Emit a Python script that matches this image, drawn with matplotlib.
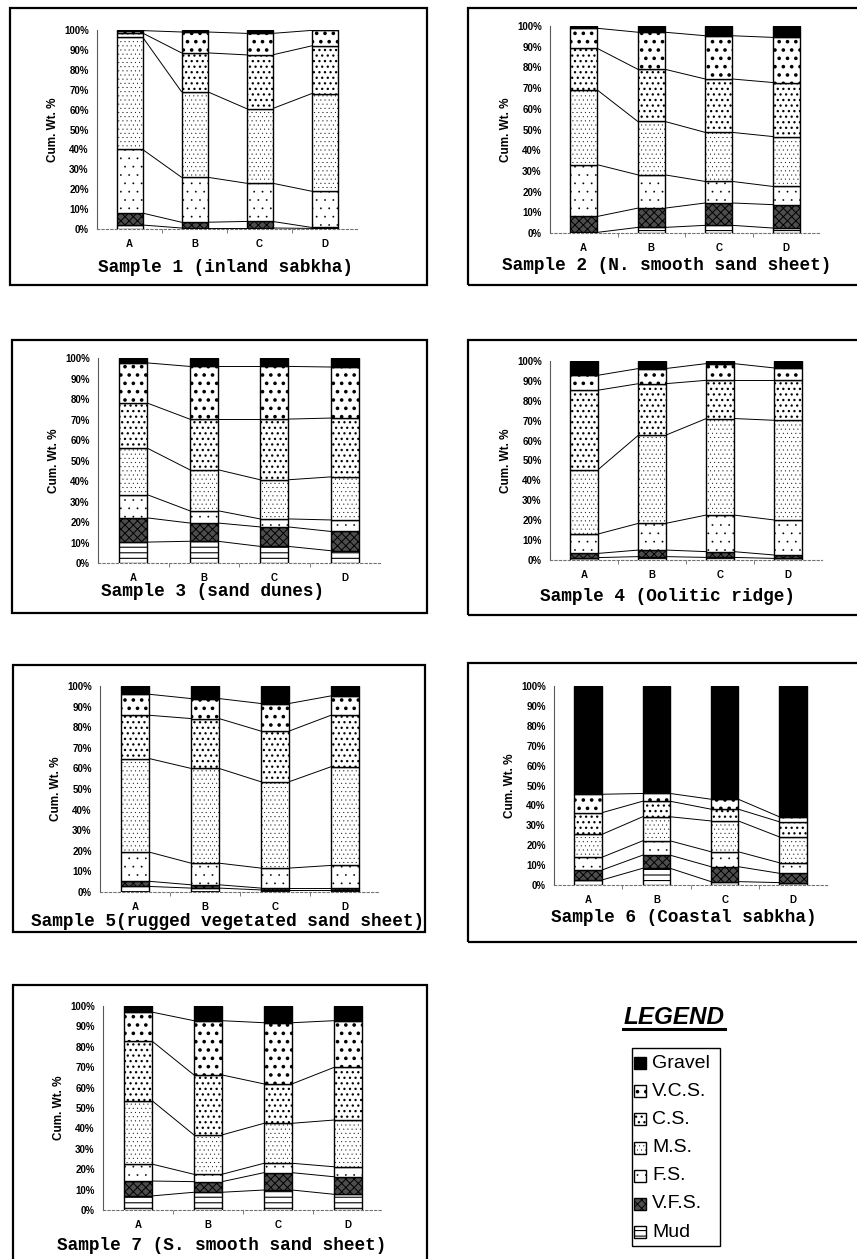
import matplotlib

matplotlib.use("Agg")
import matplotlib.pyplot as plt
from matplotlib.lines import Line2D
from matplotlib.patches import Rectangle

W, H = 857, 1259

sites = ["A", "B", "C", "D"]
classes = ["Mud", "V.F.S.", "F.S.", "M.S.", "C.S.", "V.C.S.", "Gravel"]

# cumulative wt % at the top of each class (rows Mud .. V.C.S., cols A-D); Gravel fills to 100
sample1_cum = [
    [2.0, 0.5, 0.5, 0.3],
    [8.0, 3.4, 3.8, 0.8],
    [40.0, 26.0, 23.0, 19.0],
    [96.5, 69.0, 60.5, 68.0],
    [98.5, 88.5, 87.5, 92.0],
    [99.7, 99.0, 98.3, 99.8],
]
sample2_cum = [
    [0.3, 2.7, 3.7, 2.4],
    [8.0, 12.0, 14.5, 13.7],
    [33.0, 28.1, 24.9, 22.5],
    [69.1, 53.9, 48.6, 46.6],
    [89.2, 79.1, 74.4, 72.7],
    [98.9, 97.0, 95.3, 94.5],
]
sample3_cum = [
    [10.2, 10.6, 8.1, 6.0],
    [22.0, 19.5, 17.6, 15.4],
    [33.3, 25.5, 21.5, 21.0],
    [56.0, 45.5, 40.6, 42.0],
    [78.0, 70.2, 70.2, 70.7],
    [97.6, 95.9, 95.9, 95.6],
]
sample4_cum = [
    [1.2, 1.7, 1.3, 0.8],
    [3.3, 5.0, 4.2, 2.5],
    [13.0, 18.4, 22.6, 20.1],
    [45.2, 62.7, 71.1, 70.2],
    [85.3, 88.6, 90.3, 90.3],
    [92.8, 96.2, 98.7, 96.5],
]
sample5_cum = [
    [2.7, 1.9, 1.0, 1.0],
    [5.2, 3.5, 1.9, 1.9],
    [19.4, 14.0, 11.6, 12.9],
    [64.8, 60.0, 53.5, 60.8],
    [85.8, 84.2, 78.1, 85.8],
    [96.0, 93.9, 91.5, 95.2],
]
sample6_cum = [
    [2.5, 8.4, 1.7, 1.2],
    [7.5, 15.0, 9.2, 5.9],
    [13.9, 22.2, 16.7, 11.2],
    [25.4, 34.3, 32.2, 24.2],
    [36.3, 42.1, 38.1, 31.8],
    [45.6, 46.0, 43.1, 34.3],
]
sample7_cum = [
    [6.9, 8.7, 9.8, 7.7],
    [14.2, 13.9, 18.3, 16.3],
    [22.5, 17.5, 22.9, 21.2],
    [53.6, 36.8, 42.5, 44.1],
    [82.8, 66.2, 61.8, 69.9],
    [97.0, 92.8, 91.8, 92.8],
]

titles = [
    "Sample 1 (inland sabkha)",
    "Sample 2 (N. smooth sand sheet)",
    "Sample 3 (sand dunes)",
    "Sample 4 (Oolitic ridge)",
    "Sample 5(rugged vegetated sand sheet)",
    "Sample 6 (Coastal sabkha)",
    "Sample 7 (S. smooth sand sheet)",
]
samples = [sample1_cum, sample2_cum, sample3_cum, sample4_cum,
           sample5_cum, sample6_cum, sample7_cum]

# layout in pixels: axes box (left, top, right, bottom), frame box, title centre
axes_px = [(97, 30, 357, 229), (550, 26, 820, 233), (98, 358, 380, 563),
           (550, 361, 822, 560), (100, 686, 380, 892), (554, 686, 827, 885),
           (103, 1006, 383, 1210)]
frame_px = [(10, 8, 427, 285), (468, 8, 880, 285), (12, 340, 427, 613),
            (468, 340, 880, 615), (13, 665, 425, 932), (468, 663, 880, 942),
            (13, 985, 427, 1290)]
title_px = [(225, 267), (667, 265), (213, 592), (667, 597),
            (228, 922), (684, 918), (222, 1246)]

# fill style per class: (facecolor, hatch, hatch linewidth)
styles = {
    "Mud": ("white", "---", 0.8),
    "V.F.S.": ("0.3", "xxxx", 0.7),
    "F.S.": ("white", "..", 0.1),
    "M.S.": ("white", "....", 0.2),
    "C.S.": ("white", "...", 0.9),
    "V.C.S.": ("white", "..", 1.4),
    "Gravel": ("black", "", 1.0),
}

BAR_W = 0.4
SANS = "Liberation Sans"


def px_rect(box):
    x0, y0, x1, y1 = box
    return [x0 / W, 1 - y1 / H, (x1 - x0) / W, (y1 - y0) / H]


def set_hatch_lw(patch, lw):
    if hasattr(patch, "set_hatch_linewidth"):
        patch.set_hatch_linewidth(lw)


def draw_panel(fig, cum, title, ax_box, frame_box, title_pos):
    fr = px_rect(frame_box)
    fig.add_artist(Rectangle(fr[:2], fr[2], fr[3], transform=fig.transFigure,
                             fill=False, edgecolor="black", linewidth=1.6))
    ax = fig.add_axes(px_rect(ax_box))
    ax.patch.set_alpha(0)
    x = list(range(len(sites)))
    tops = cum + [[100.0] * len(sites)]
    for k, name in enumerate(classes):
        bottom = tops[k - 1] if k > 0 else [0.0] * len(sites)
        heights = [t - b for t, b in zip(tops[k], bottom)]
        face, hatch, hlw = styles[name]
        with plt.rc_context({"hatch.linewidth": hlw}):
            bars = ax.bar(x, heights, bottom=bottom, width=BAR_W, color=face,
                          edgecolor="black", linewidth=1.0, hatch=hatch, zorder=3)
        for b in bars:
            set_hatch_lw(b, hlw)

    # Excel-style series lines between bar edges
    for row in cum:
        for i in range(len(sites) - 1):
            ax.plot([i + BAR_W / 2, i + 1 - BAR_W / 2], [row[i], row[i + 1]],
                    color="black", linewidth=0.7, zorder=2)

    ax.set_xlim(-0.5, len(sites) - 0.5)
    ax.set_ylim(0, 100)
    yt = list(range(0, 101, 10))
    ax.set_yticks(yt)
    ax.set_yticklabels([f"{v}%" for v in yt], fontsize=7, fontweight="bold", family=SANS)
    ax.set_xticks(x)
    ax.set_xticklabels(sites, fontsize=7, fontweight="bold", family=SANS)
    ax.set_xticks([i + 0.5 for i in x[:-1]], minor=True)
    ax.tick_params(axis="y", length=0, pad=6)
    ax.tick_params(axis="x", which="major", length=0, pad=7)
    ax.tick_params(axis="x", which="minor", length=3, color="0.4", width=0.6)
    for side in ("top", "right"):
        ax.spines[side].set_visible(False)
    ax.spines["left"].set_color("0.35")
    ax.spines["left"].set_linewidth(0.8)
    ax.spines["bottom"].set_color("0.45")
    ax.spines["bottom"].set_linewidth(0.8)
    ax.spines["bottom"].set_linestyle((0, (2, 2)))

    ax.set_ylabel("Cum. Wt. %", fontsize=8.5, fontweight="bold", family=SANS)
    ax.yaxis.set_label_coords(-38 / (ax_box[2] - ax_box[0]), 0.5)

    fig.text(title_pos[0] / W, 1 - title_pos[1] / H, title, ha="center", va="center",
             family="Liberation Mono", fontweight="bold", fontsize=12.8)


def draw_legend(fig):
    fig.text(674 / W, 1 - 1017 / H, "LEGEND", ha="center", va="center",
             family=SANS, fontweight="bold", style="italic", fontsize=17.5)
    fig.add_artist(Line2D([623 / W, 725 / W], [1 - 1029 / H, 1 - 1029 / H],
                          transform=fig.transFigure, color="black", linewidth=2.2))
    box = px_rect((632, 1048, 720, 1246))
    fig.add_artist(Rectangle(box[:2], box[2], box[3], transform=fig.transFigure,
                             fill=False, edgecolor="black", linewidth=1.0))
    for j, name in enumerate(classes[::-1]):
        yc = 1063 + j * 28.2
        face, hatch, hlw = styles[name]
        sq_box = px_rect((634, yc - 6, 646, yc + 6))
        with plt.rc_context({"hatch.linewidth": hlw}):
            sq = Rectangle(sq_box[:2], sq_box[2], sq_box[3],
                           transform=fig.transFigure, facecolor=face,
                           edgecolor="black", linewidth=1.0, hatch=hatch)
        set_hatch_lw(sq, hlw)
        fig.add_artist(sq)
        fig.text(652 / W, 1 - yc / H, name, ha="left", va="center",
                 family=SANS, fontsize=14)


def main() -> None:
    fig = plt.figure(figsize=(W / 100, H / 100), dpi=100)
    for cum, title, ab, fb, tp in zip(samples, titles, axes_px, frame_px, title_px):
        draw_panel(fig, cum, title, ab, fb, tp)
    draw_legend(fig)
    fig.savefig("out.png", dpi=100)
    plt.close(fig)


if __name__ == "__main__":
    main()
